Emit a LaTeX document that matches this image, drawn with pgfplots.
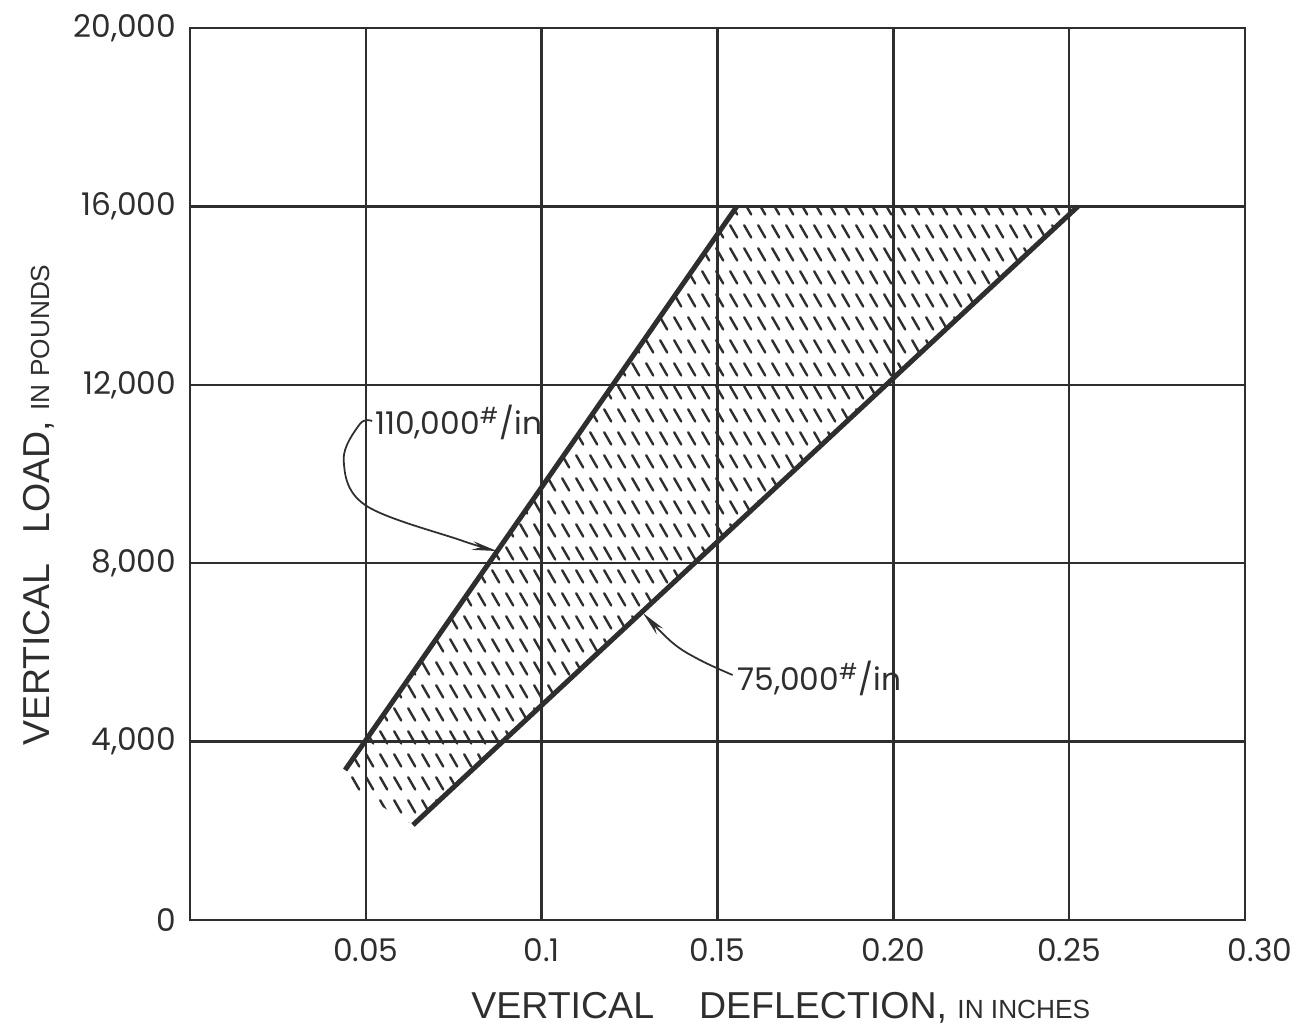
\documentclass[border=0pt]{standalone}
\usepackage{pgfplots}
\pgfplotsset{compat=1.18}
\usepackage{fontspec}
\setmainfont{Liberation Sans}
\newfontfamily\tickfont{Poppins}
\usetikzlibrary{patterns,arrows.meta,calc}

\pgfdeclarepatternformonly{dashhatch}{\pgfpointorigin}{\pgfpoint{5.4pt}{9.35pt}}{\pgfpoint{5.4pt}{9.35pt}}{%
  \pgfsetlinewidth{1pt}%
  \pgfsetroundcap
  \pgfpathmoveto{\pgfpoint{0.5pt}{8.5pt}}%
  \pgfpathlineto{\pgfpoint{3.4pt}{3.5pt}}%
  \pgfusepath{stroke}%
}

\definecolor{ink}{gray}{0.18}

\begin{document}
\begin{tikzpicture}
\begin{axis}[
  width=422pt, height=356.8pt, scale only axis,
  xmin=0, xmax=0.30, ymin=0, ymax=20000,
  xtick={0.05,0.1,0.15,0.2,0.25,0.3},
  xticklabels={0.05,0.1,0.15,0.20,0.25,{\hspace{12pt}0.30}},
  ytick={0,4000,8000,12000,16000,20000},
  yticklabels={0,{4,000},{8,000},{12,000},{16,000},{20,000}},
  scaled ticks=false,
  grid=major,
  major grid style={line width=1pt, draw=ink},
  axis line style={line width=1pt, draw=ink},
  major tick length=0pt,
  tick style={draw=none},
  ticklabel style={font=\tickfont\fontsize{12.5}{14}\selectfont, text=ink},
  xticklabel style={yshift=-4pt},
  yticklabel style={xshift=-2pt},
  clip=false,
  xlabel={VERTICAL\hspace{18pt}DEFLECTION, {\fontsize{10.5}{12}\selectfont IN INCHES}},
  ylabel={VERTICAL\hspace{12pt}LOAD, {\fontsize{10.5}{12}\selectfont IN POUNDS}},
  label style={font=\fontsize{15}{17}\selectfont, text=ink},
  xlabel style={at={(axis description cs:0.56,-0.0987)}, anchor=center},
  ylabel style={at={(axis description cs:-0.143,0.465)}, anchor=center},
]
% hatched band
\addplot[draw=none, pattern=dashhatch, pattern color=ink]
  coordinates {(0.0441,3363) (0.1555,16000) (0.2525,16000) (0.0634,2130) (0.0470,2900)} -- cycle;
% stiffness lines
\addplot[line width=2pt, ink] coordinates {(0.0441,3363) (0.1555,16000)};
\addplot[line width=2pt, ink] coordinates {(0.0634,2130) (0.2525,16000)};
\addplot[line width=1.2pt, ink] coordinates {(0.1555,16000) (0.2525,16000)};

% annotations
\draw[line width=0.7pt, ink, -{Stealth[length=10pt,width=3.5pt]}]
  plot[smooth, tension=0.6] coordinates {(0.0518,11188) (0.0483,11120) (0.0437,10313) (0.0498,9304) (0.0768,8520) (0.0873,8273)};
\node[anchor=west, inner sep=0pt, text=ink, font=\tickfont\fontsize{12.5}{14}\selectfont]
  at (0.0525,11150) {110,000\textsuperscript{\#}/in};

\draw[line width=0.7pt, ink, -{Stealth[length=10pt,width=3.5pt]}]
  plot[smooth, tension=0.6] coordinates {(0.1543,5493) (0.1450,5829) (0.1373,6210) (0.1288,6883)};
\node[anchor=west, inner sep=0pt, text=ink, font=\tickfont\fontsize{12.5}{14}\selectfont]
  at (0.1555,5420) {75,000\textsuperscript{\#}/in};
\end{axis}
\pgfresetboundingbox
\path ($(current axis.south west)+(-76pt,-44pt)$) rectangle ($(current axis.north east)+(25.6pt,11.2pt)$);
\end{tikzpicture}
\end{document}
